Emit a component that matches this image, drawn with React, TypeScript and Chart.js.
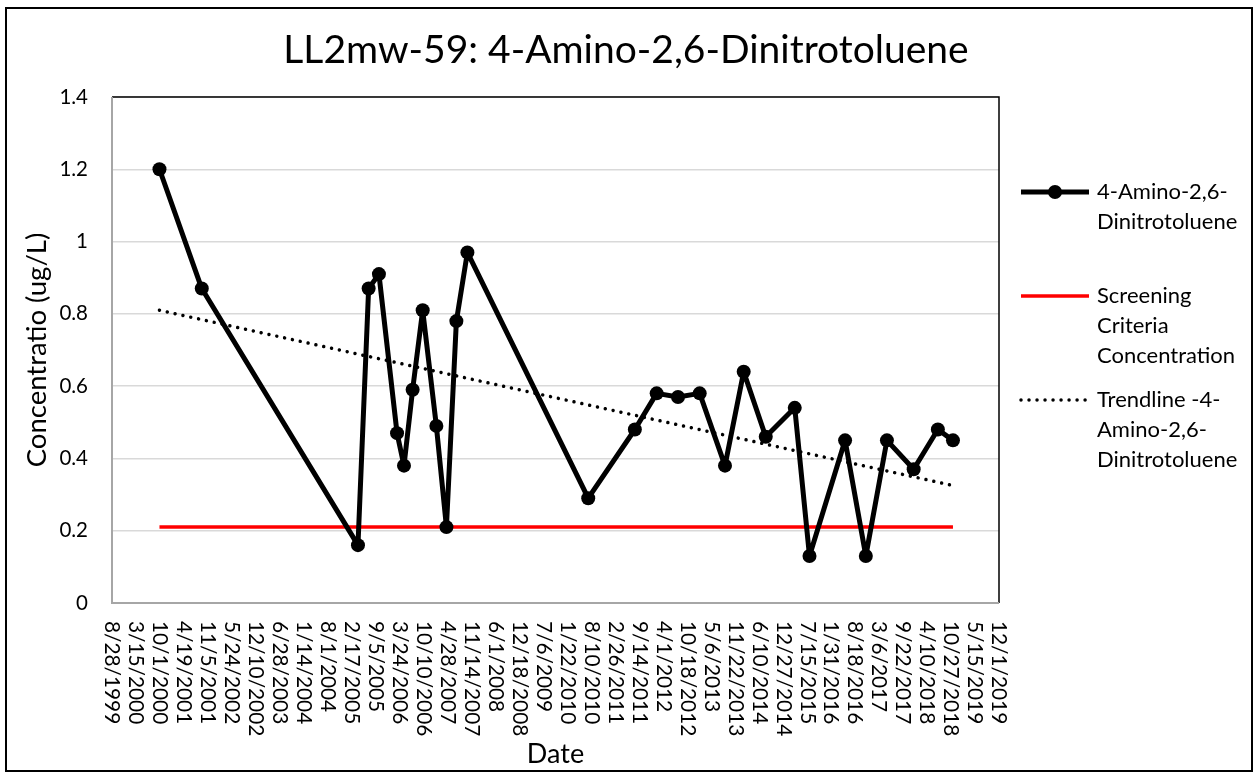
import React, { useEffect, useRef } from 'react';
import { Chart, registerables } from 'chart.js';

Chart.register(...registerables);

const TITLE = 'LL2mw-59: 4-Amino-2,6-Dinitrotoluene';
const X_TITLE = 'Date';
const Y_TITLE = 'Concentratio (ug/L)';
const SERIES_LABEL = '4-Amino-2,6-Dinitrotoluene';
const SCREENING_LABEL = 'Screening Criteria Concentration';
const TREND_LABEL = 'Trendline -4-Amino-2,6-Dinitrotoluene';

const sampleDates = [
  '2000-09-27', '2001-09-15', '2005-04-10', '2005-07-08', '2005-10-02',
  '2006-03-02', '2006-04-29', '2006-07-10', '2006-10-02', '2007-01-24',
  '2007-04-18', '2007-07-10', '2007-10-10', '2010-07-14', '2011-08-07',
  '2012-02-05', '2012-08-01', '2013-01-29', '2013-08-28', '2014-01-31',
  '2014-08-03', '2015-04-02', '2015-08-03', '2016-05-26', '2016-11-15',
  '2017-05-10', '2017-12-19', '2018-07-09', '2018-11-12',
];
const concentrations = [
  1.2, 0.87, 0.16, 0.87, 0.91,
  0.47, 0.38, 0.59, 0.81, 0.49,
  0.21, 0.78, 0.97, 0.29, 0.48,
  0.58, 0.57, 0.58, 0.38, 0.64,
  0.46, 0.54, 0.13, 0.45, 0.13,
  0.45, 0.37, 0.48, 0.45,
];
const screeningValues = [0.21, 0.21];
const trendValues = [0.81, 0.325];

const axisStartDate = '1999-08-28';
const axisEndDate = '2019-12-01';
const xTickStepDays = 200;
const yTickLabels = ['0', '0.2', '0.4', '0.6', '0.8', '1', '1.2', '1.4'];
const yMax = 1.4;
const yStep = 0.2;

const legendLines = [
  ['4-Amino-2,6-', 'Dinitrotoluene'],
  ['Screening', 'Criteria', 'Concentration'],
  ['Trendline -4-', 'Amino-2,6-', 'Dinitrotoluene'],
];

const FONT = 'Lato, "Open Sans", sans-serif';
const DAY = 86400000;
const toMs = (s: string) => {
  const [y, m, d] = s.split('-').map(Number);
  return Date.UTC(y, m - 1, d);
};
const base = toMs(axisStartDate);
const toDay = (s: string) => Math.round((toMs(s) - base) / DAY);
const fmtDay = (v: number) => {
  const dt = new Date(base + Math.round(v) * DAY);
  return `${dt.getUTCMonth() + 1}/${dt.getUTCDate()}/${dt.getUTCFullYear()}`;
};

export default function App() {
  const ref = useRef<HTMLCanvasElement>(null);

  useEffect(() => {
    document.body.style.margin = '0';
    const canvas = ref.current!;
    const xs = sampleDates.map(toDay);
    const first = xs[0];
    const last = xs[xs.length - 1];

    const decor = {
      id: 'decor',
      beforeDatasetsDraw(chart: any) {
        const { ctx, chartArea: a } = chart;
        ctx.save();
        ctx.strokeStyle = '#000';
        ctx.lineWidth = 1.5;
        ctx.beginPath();
        ctx.moveTo(a.left, a.top);
        ctx.lineTo(a.right, a.top);
        ctx.lineTo(a.right, a.bottom);
        ctx.stroke();
        ctx.strokeStyle = '#a6a6a6';
        ctx.lineWidth = 2;
        ctx.beginPath();
        ctx.moveTo(a.left, a.top);
        ctx.lineTo(a.left, a.bottom);
        ctx.lineTo(a.right, a.bottom);
        ctx.stroke();
        ctx.restore();
      },
      afterDraw(chart: any) {
        const { ctx } = chart;
        const xScale = chart.scales.x;
        ctx.save();
        // title
        ctx.fillStyle = '#000';
        ctx.font = `39px ${FONT}`;
        ctx.textAlign = 'center';
        ctx.textBaseline = 'middle';
        ctx.fillText(TITLE, 626, 50);
        // x tick labels, rotated 90deg (reading top to bottom)
        ctx.font = `20.8px ${FONT}`;
        ctx.textAlign = 'left';
        ctx.textBaseline = 'middle';
        for (const t of xScale.ticks) {
          const px = xScale.getPixelForValue(t.value);
          ctx.save();
          ctx.translate(px, 621);
          ctx.rotate(Math.PI / 2);
          ctx.fillText(fmtDay(t.value), 0, 0);
          ctx.restore();
        }
        // legend
        const ys = [192, 296, 400];
        const ds = chart.data.datasets;
        ds.forEach((d: any, i: number) => {
          const y = ys[i];
          ctx.save();
          ctx.strokeStyle = d.borderColor;
          ctx.lineWidth = d.borderWidth;
          ctx.lineCap = d.borderCapStyle || 'butt';
          ctx.setLineDash(d.borderDash || []);
          ctx.beginPath();
          ctx.moveTo(1021, y);
          ctx.lineTo(1089, y);
          ctx.stroke();
          ctx.restore();
          if (d.pointRadius > 0) {
            ctx.fillStyle = d.pointBackgroundColor;
            ctx.beginPath();
            ctx.arc(1055, y, d.pointRadius, 0, Math.PI * 2);
            ctx.fill();
          }
          ctx.fillStyle = '#000';
          ctx.font = `22px ${FONT}`;
          ctx.textAlign = 'left';
          ctx.textBaseline = 'middle';
          legendLines[i].forEach((ln, k) => ctx.fillText(ln, 1097, y + k * 30));
        });
        // outer border
        ctx.strokeStyle = '#000';
        ctx.lineWidth = 2;
        ctx.strokeRect(6, 8, 1246, 763);
        ctx.restore();
      },
    };

    const chart = new Chart(canvas, {
      type: 'line',
      data: {
        datasets: [
          {
            label: SERIES_LABEL,
            data: xs.map((x, i) => ({ x, y: concentrations[i] })),
            borderColor: '#000',
            backgroundColor: '#000',
            borderWidth: 5,
            pointRadius: 7,
            pointBorderWidth: 0,
            pointBackgroundColor: '#000',
            borderJoinStyle: 'round',
            tension: 0,
          },
          {
            label: SCREENING_LABEL,
            data: [
              { x: first, y: screeningValues[0] },
              { x: last, y: screeningValues[1] },
            ],
            borderColor: '#ff0000',
            borderWidth: 3.5,
            pointRadius: 0,
          },
          {
            label: TREND_LABEL,
            data: [
              { x: first, y: trendValues[0] },
              { x: last, y: trendValues[1] },
            ],
            borderColor: '#000',
            borderWidth: 3.5,
            borderDash: [0.01, 8],
            borderCapStyle: 'round',
            pointRadius: 0,
          },
        ],
      } as any,
      plugins: [decor],
      options: {
        responsive: false,
        animation: false,
        devicePixelRatio: 1,
        events: [],
        layout: { padding: { top: 97, right: 258, left: 0, bottom: 0 } },
        plugins: {
          legend: { display: false },
          title: { display: false },
          tooltip: { enabled: false },
        },
        scales: {
          x: {
            type: 'linear',
            min: 0,
            max: toDay(axisEndDate),
            afterFit: (s: any) => { s.height = 172; },
            ticks: { display: false, stepSize: xTickStepDays, autoSkip: false },
            grid: { display: false },
            border: { display: false },
            title: {
              display: true,
              text: X_TITLE,
              color: '#000',
              font: { family: FONT, size: 27 },
              padding: { top: 0, bottom: 5 },
            },
          },
          y: {
            min: 0,
            max: yMax,
            afterFit: (s: any) => { s.width = 112; },
            ticks: {
              stepSize: yStep,
              color: '#000',
              padding: 24,
              font: { family: FONT, size: 20.5 },
              callback: (_v: any, i: number) => yTickLabels[i],
            },
            grid: { color: '#d9d9d9', lineWidth: 1.5, drawTicks: false },
            border: { display: false },
            title: {
              display: true,
              text: Y_TITLE,
              color: '#000',
              font: { family: FONT, size: 27.5 },
              padding: { top: 21, bottom: 0 },
            },
          },
        },
      } as any,
    });
    return () => chart.destroy();
  }, []);

  return (
    <div style={{ width: 1257, height: 775, background: '#fff' }}>
      <canvas ref={ref} width={1257} height={775} style={{ display: 'block' }} />
    </div>
  );
}
